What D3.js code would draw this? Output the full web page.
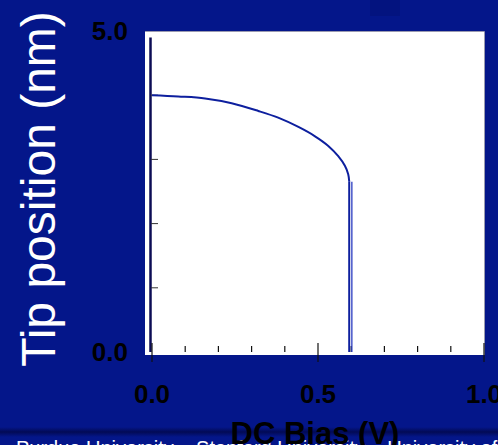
<!DOCTYPE html>
<html><head><meta charset="utf-8">
<script src="https://cdn.jsdelivr.net/npm/d3@7"></script>
<style>html,body{margin:0;padding:0;background:#04168a;overflow:hidden}</style>
</head><body>
<svg id="c" width="498" height="445"></svg>
<script>
// Data
const biasV = [0, 0.079, 0.160, 0.240, 0.320, 0.380, 0.441, 0.491, 0.531, 0.561, 0.581, 0.591, 0.594];
const tipNm = [4.00, 3.98, 3.95, 3.875, 3.755, 3.65, 3.505, 3.36, 3.21, 3.05, 2.90, 2.77, 2.66];
const dropV = [0.594, 0.594];
const dropNm = [2.66, 0];
const returnV = [0.602, 0.602];
const returnNm = [2.65, 0];
const xTickLabels = ["0.0", "0.5", "1.0"];
const yTickLabels = ["0.0", "5.0"];
const xMinor = [0.1,0.2,0.3,0.4,0.6,0.7,0.8,0.9];
const xMajor = [0, 0.5, 1.0];
const yMinor = [1,2,3,4];

const svg = d3.select("#c");
const x = d3.scaleLinear().domain([0,1]).range([152,484]);
const y = d3.scaleLinear().domain([0,5]).range([352,31]);

svg.append("rect").attr("width",498).attr("height",445).attr("fill","#04168a");
svg.append("rect").attr("x",370).attr("y",0).attr("width",30).attr("height",16).attr("fill","#03137f");
const g = svg.append("defs").append("linearGradient").attr("id","band").attr("x1",0).attr("x2",0).attr("y1",0).attr("y2",1);
g.append("stop").attr("offset","0%").attr("stop-color","#04168a");
g.append("stop").attr("offset","50%").attr("stop-color","#020a55");
g.append("stop").attr("offset","100%").attr("stop-color","#04168a");
svg.append("rect").attr("x",0).attr("y",427).attr("width",498).attr("height",10).attr("fill","url(#band)");
svg.append("text").attr("x",16).attr("y",455).attr("fill","#fff")
  .style("font-family","Liberation Sans, Arial, sans-serif").style("font-size","20px")
  .text("Purdue University – Stanford University – University of Illinois");

// plot area
svg.append("rect").attr("x",145).attr("y",31).attr("width",339).attr("height",324).attr("fill","#fff");
svg.append("path").attr("d","M145,31.5H484.5V355").attr("fill","none").attr("stroke","#9a9ab0").attr("stroke-width",1);

// y axis line
svg.append("line").attr("x1",150.5).attr("x2",150.5).attr("y1",y(0)).attr("y2",y(4.9))
  .attr("stroke","#0c0c55").attr("stroke-width",2.5);
svg.selectAll(".yt").data(yMinor).join("line").attr("x1",151).attr("x2",158)
  .attr("y1",d=>y(d)).attr("y2",d=>y(d)).attr("stroke","#333").attr("stroke-width",1);
svg.selectAll(".xm").data(xMinor).join("line").attr("x1",d=>x(d)).attr("x2",d=>x(d))
  .attr("y1",346).attr("y2",352).attr("stroke","#111").attr("stroke-width",1.2);
svg.selectAll(".xM").data(xMajor).join("line").attr("x1",d=>x(d)).attr("x2",d=>x(d))
  .attr("y1",343).attr("y2",362).attr("stroke","#111").attr("stroke-width",1.2);

// curves
const straight = d3.line().x(d=>x(d[0])).y(d=>y(d[1]));
const smooth = d3.line().x(d=>x(d[0])).y(d=>y(d[1])).curve(d3.curveCatmullRom.alpha(0.5));
svg.append("path").datum(returnV.map((v,i)=>[v,returnNm[i]])).attr("d",straight)
  .attr("fill","none").attr("stroke","#2a3cc0").attr("stroke-width",1.3);
svg.append("path").datum(dropV.map((v,i)=>[v,dropNm[i]])).attr("d",straight)
  .attr("fill","none").attr("stroke","#0d1f9e").attr("stroke-width",2);
svg.append("path").datum(biasV.map((v,i)=>[v,tipNm[i]])).attr("d",smooth)
  .attr("fill","none").attr("stroke","#0d1f9e").attr("stroke-width",2);

// tick labels
const bold = s => s.style("font-family","Liberation Sans, Arial, sans-serif").style("font-weight","bold").attr("fill","#000");
bold(svg.selectAll(".yl").data([0,5]).join("text")).attr("x",128).attr("y",d=>y(d)).attr("dy","0.36em")
  .attr("text-anchor","end").style("font-size","26px").text((d,i)=>yTickLabels[i]);
bold(svg.selectAll(".xl").data(xMajor).join("text")).attr("x",d=>x(d)).attr("y",403)
  .attr("text-anchor","middle").style("font-size","26px").text((d,i)=>xTickLabels[i]);

// titles
bold(svg.append("text")).attr("x",315).attr("y",444).attr("text-anchor","middle").style("font-size","31px").text("DC Bias (V)");
svg.append("text").attr("transform","translate(55,189) rotate(-90)").attr("text-anchor","middle")
  .attr("fill","#fff").style("font-family","Liberation Sans, Arial, sans-serif").style("font-size","48px")
  .text("Tip position (nm)");
</script>
</body></html>
